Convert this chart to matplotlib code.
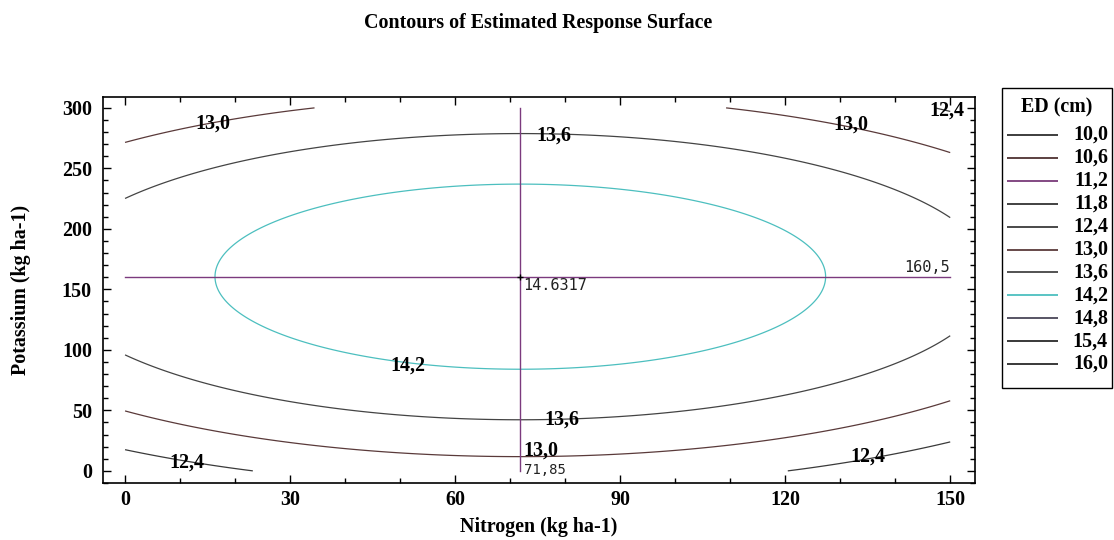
import numpy as np
import matplotlib
matplotlib.use("Agg")
import matplotlib.pyplot as plt
from matplotlib.ticker import MultipleLocator
from matplotlib.patches import Rectangle

# ---- data ----
# Fitted quadratic response surface (optimum and contour extents)
opt_N = 71.85          # nitrogen at optimum
opt_K = 160.5          # potassium at optimum
opt_ED = 14.6317       # estimated maximum
coef_N = 1.4016e-4     # curvature along nitrogen
coef_K = 7.377e-5      # curvature along potassium

levels = [10.0, 10.6, 11.2, 11.8, 12.4, 13.0, 13.6, 14.2, 14.8, 15.4, 16.0]
level_labels = ["10,0", "10,6", "11,2", "11,8", "12,4", "13,0", "13,6", "14,2", "14,8", "15,4", "16,0"]
level_colors = ["#2e2e2e", "#4e3232", "#7a3a7a", "#333333", "#3a3a3a", "#5a3a3a",
                "#444444", "#4cbfbf", "#4a4658", "#2a2a2a", "#2a2a2a"]

clabel_text = ["13,0", "13,6", "13,0", "12,4", "14,2", "13,6", "13,0", "12,4", "12,4"]
clabel_N = [16, 78, 132, 149.4, 51.5, 79.4, 75.5, 11.2, 135]
clabel_K = [287, 277, 286, 298, 87, 42, 16.5, 6.6, 11.6]

x_ticks = [0, 30, 60, 90, 120, 150]
y_ticks = [0, 50, 100, 150, 200, 250, 300]

# ---- figure ----
serif = ["Liberation Serif", "DejaVu Serif"]
plt.rcParams["font.family"] = serif
plt.rcParams["font.weight"] = "bold"
FS = 14.4

fig = plt.figure(figsize=(11.14, 5.40), dpi=100)
ax = fig.add_axes([0.0925, 0.1056, 0.7827, 0.7148])

N = np.linspace(0, 150, 400)
K = np.linspace(0, 300, 400)
NN, KK = np.meshgrid(N, K)
ED = opt_ED - coef_N * (NN - opt_N) ** 2 - coef_K * (KK - opt_K) ** 2

ax.contour(NN, KK, ED, levels=levels, colors=level_colors, linewidths=0.9)

for t, xn, yk in zip(clabel_text, clabel_N, clabel_K):
    ax.text(xn, yk, t, ha="center", va="center", fontsize=FS, fontweight="bold",
            family=serif, color="black")

cross = "#7b3a7e"
ax.plot([opt_N, opt_N], [0, 300], color=cross, lw=1.0)
ax.plot([0, 150], [opt_K, opt_K], color=cross, lw=1.0)
ax.plot([opt_N], [opt_K], marker="+", color="black", ms=5, mew=1)

mono = ["DejaVu Sans Mono"]
ax.text(opt_N + 0.6, opt_K - 1.5, "14.6317", ha="left", va="top", fontsize=11,
        family=mono, fontweight="normal", color="#222222")
ax.text(150, opt_K + 1.5, "160,5", ha="right", va="bottom", fontsize=11,
        family=mono, fontweight="normal", color="#222222")
ax.text(opt_N + 0.6, 1.0, "71,85", ha="left", va="center", fontsize=10,
        family=mono, fontweight="normal", color="#222222")

ax.set_xlim(-4, 154.5)
ax.set_ylim(-10, 309)
ax.set_xticks(x_ticks)
ax.set_yticks(y_ticks)
ax.xaxis.set_minor_locator(MultipleLocator(10))
ax.yaxis.set_minor_locator(MultipleLocator(10))
ax.tick_params(which="both", direction="in", top=True, right=True, labelsize=FS, width=1)
ax.tick_params(which="major", length=6)
ax.tick_params(which="minor", length=3.5)
ax.tick_params(axis="y", which="major", pad=8)
ax.tick_params(axis="x", which="major", pad=5)
for lab in ax.get_xticklabels() + ax.get_yticklabels():
    lab.set_fontweight("bold")
for s in ax.spines.values():
    s.set_linewidth(1.2)

ax.set_xlabel("Nitrogen (kg ha-1)", fontsize=FS, fontweight="bold", labelpad=5)
ax.set_ylabel("Potassium (kg ha-1)", fontsize=FS, fontweight="bold", labelpad=22)
fig.text(0.483, 0.958, "Contours of Estimated Response Surface", ha="center", va="center",
         fontsize=FS, fontweight="bold")

# ---- legend box (drawn in its own pixel-unit axes) ----
W, H = 111, 301
lax = fig.add_axes([1001 / 1114, 1 - 388 / 540, W / 1114, H / 540])
lax.set_xlim(0, W)
lax.set_ylim(H, 0)
lax.axis("off")
lax.add_patch(Rectangle((0.5, 0.5), W - 1, H - 1, fill=False, edgecolor="black",
                        lw=1.0, clip_on=False))
lax.text(W / 2, 20, "ED (cm)", ha="center", va="center", fontsize=FS, fontweight="bold")
row0, step = 48, 22.9
for i, (lab, col) in enumerate(zip(level_labels, level_colors)):
    y = row0 + i * step
    lax.plot([6, 57], [y, y], color=col, lw=1.3, solid_capstyle="butt")
    lax.text(107, y, lab, ha="right", va="center", fontsize=FS, fontweight="bold")

fig.savefig("out.png", dpi=100)
